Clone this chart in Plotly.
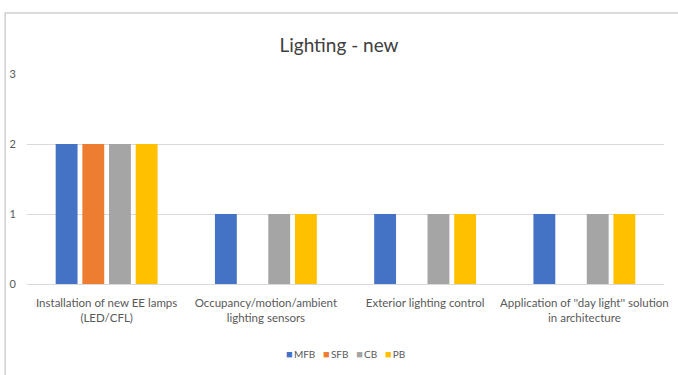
import plotly.graph_objects as go

categories = [
    "Installation of new EE lamps<br>(LED/CFL)",
    "Occupancy/motion/ambient<br>lighting sensors",
    "Exterior lighting control",
    "Application of ''day light'' solution<br>in architecture",
]
series_names = ["MFB", "SFB", "CB", "PB"]
series_values = {
    "MFB": [2, 1, 1, 1],
    "SFB": [2, 0, 0, 0],
    "CB": [2, 1, 1, 1],
    "PB": [2, 1, 1, 1],
}
series_colors = {
    "MFB": "#4472C4",
    "SFB": "#ED7D31",
    "CB": "#A5A5A5",
    "PB": "#FFC000",
}
y_ticks = [0, 1, 2, 3]

FONT = "Liberation Sans Narrow, Arial Narrow, Lato, sans-serif"

fig = go.Figure()
for name in series_names:
    fig.add_trace(go.Bar(
        x=categories,
        y=series_values[name],
        name=name,
        marker=dict(color=series_colors[name], line=dict(width=0)),
        showlegend=False,
    ))

W, H = 678, 375
ml, mr, mt, mb = 26, 10, 74, 91
pw, ph = W - ml - mr, H - mt - mb

# outer chart frame (left and top edges visible)
fig.add_shape(
    type="rect", xref="paper", yref="paper",
    x0=(4 - ml) / pw, x1=1.2, y0=-1.0, y1=(H - mb - 13) / ph,
    line=dict(color="#d0d0d0", width=1.5), fillcolor="rgba(0,0,0,0)",
    layer="below",
)

# compact legend row: coloured square + series name
legend_text = "&nbsp;&nbsp;&nbsp;".join(
    f"<span style='color:{series_colors[n]};font-size:11px'>■</span>&#8201;{n}"
    for n in series_names
)
fig.add_annotation(
    text=legend_text, xref="paper", yref="paper",
    x=0.5, xanchor="center", y=(H - mb - 353) / ph, yanchor="middle",
    showarrow=False, font=dict(family=FONT, size=10, color="#595959"),
)

fig.update_layout(
    width=W, height=H,
    margin=dict(l=ml, r=mr, t=mt, b=mb),
    paper_bgcolor="white", plot_bgcolor="white",
    barmode="group", bargap=0.33, bargroupgap=0.18,
    font=dict(family=FONT, color="#595959", size=11),
    title=dict(
        text="Lighting - new", x=0.5, xanchor="center",
        y=1 - 45 / H, yanchor="middle",
        font=dict(family=FONT, size=19, color="#404040"),
    ),
    showlegend=False,
    xaxis=dict(
        showgrid=False, showline=True, linecolor="#d9d9d9", linewidth=1,
        ticks="", ticklabelstandoff=8,
        tickfont=dict(family=FONT, size=11.5, color="#595959"),
    ),
    yaxis=dict(
        range=[0, 3], tickvals=y_ticks, showgrid=True, gridcolor="#d9d9d9",
        gridwidth=1, zeroline=False, showline=False, ticks="",
        ticklabelstandoff=10,
        tickfont=dict(family=FONT, size=11, color="#595959"),
    ),
)

fig.write_html("out.html")
